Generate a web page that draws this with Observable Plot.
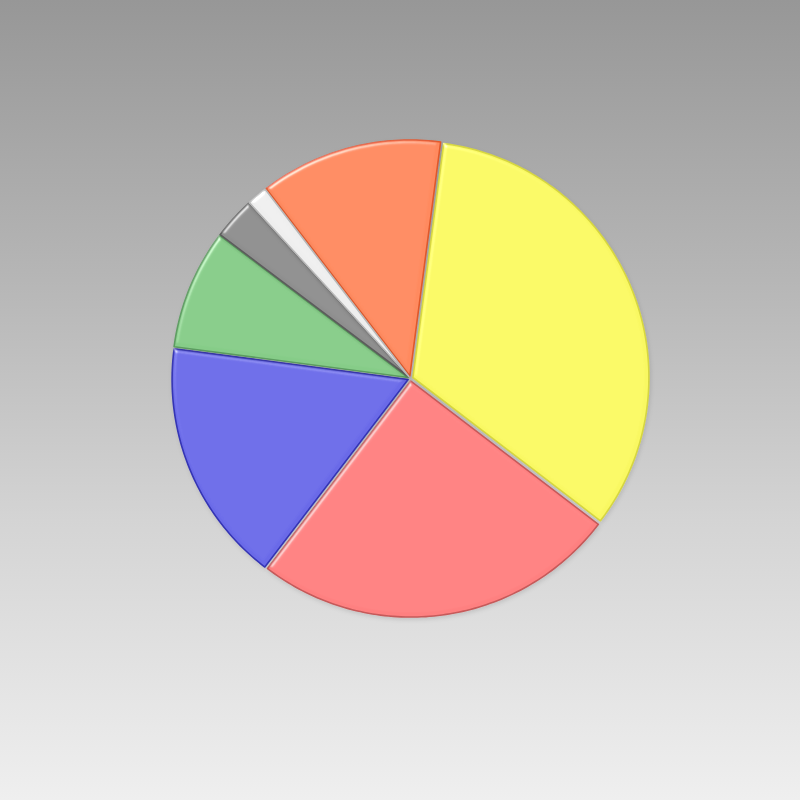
<!DOCTYPE html>
<html>
<head>
<meta charset="utf-8">
<script src="https://cdn.jsdelivr.net/npm/d3@7"></script>
<script src="https://cdn.jsdelivr.net/npm/@observablehq/plot@0.6"></script>
<style>
  html, body { margin: 0; padding: 0; }
  body { width: 800px; height: 800px; overflow: hidden;
         background: linear-gradient(to bottom, #979797 0%, #b6b6b6 35%, #d4d4d4 65%, #efefef 100%); }
  #chart svg { display: block; background: transparent; }
</style>
</head>
<body>
<div id="chart"></div>
<script>
// Slice categories, shares (percent), and colours, clockwise starting from the orange slice
const names  = ["Slice A", "Slice B", "Slice C", "Slice D", "Slice E", "Slice F", "Slice G"];
const values = [12.5, 33.3, 25, 16.7, 8.2, 2.9, 1.4];
const fills  = ["#ff8a5e", "#f9f862", "#fe8080", "#6a6ae8", "#86cc88", "#8e8e8e", "#eeeeee"];
const edges  = ["#e0582c", "#d6d640", "#c65a5a", "#3535b4", "#5c9c60", "#5c5c5c", "#b8b8b8"];
const startDeg = -37.5; // rotation of the first slice (clockwise from 12 o'clock)
const explode = 0.011;  // small radial separation between slices (fraction of radius)

// Build slice outlines from the values (angles from the shares)
const total = d3.sum(values);
const rows = [];
let acc = startDeg;
names.forEach((name, i) => {
  const a0 = acc, a1 = acc + values[i] / total * 360;
  acc = a1;
  const mid = (a0 + a1) / 2 * Math.PI / 180;
  const ox = explode * Math.sin(mid), oy = explode * Math.cos(mid);
  rows.push({name, edge: edges[i], x: ox, y: oy});
  const n = Math.max(2, Math.ceil(a1 - a0));
  for (let k = 0; k <= n; k++) {
    const a = (a0 + (a1 - a0) * k / n) * Math.PI / 180;
    rows.push({name, edge: edges[i], x: ox + Math.sin(a), y: oy + Math.cos(a)});
  }
});

const R = 236, cx = 410, cy = 378, W = 800, H = 800;
const chart = Plot.plot({
  width: W, height: H,
  margin: 0,
  style: {background: "transparent"},
  x: {domain: [-cx / R, (W - cx) / R], axis: null},
  y: {domain: [-(H - cy) / R, cy / R], axis: null},
  color: {type: "ordinal", domain: names, range: fills},
  marks: [
    Plot.line(rows, {
      x: "x", y: "y", z: "name",
      fill: "name",
      stroke: {value: "edge", scale: null},
      strokeWidth: 1.6,
      strokeLinejoin: "round",
      curve: "linear-closed",
      className: "slices"
    })
  ]
});

// Bevel / gloss filter to mimic the rendered 3D look
const ns = "http://www.w3.org/2000/svg";
const defs = document.createElementNS(ns, "defs");
defs.innerHTML = `
  <filter id="bevel" x="-5%" y="-5%" width="110%" height="110%">
    <feGaussianBlur in="SourceAlpha" stdDeviation="2" result="blur"/>
    <feSpecularLighting in="blur" surfaceScale="3" specularConstant="0.8" specularExponent="30" lighting-color="#ffffff" result="spec">
      <feDistantLight azimuth="235" elevation="35"/>
    </feSpecularLighting>
    <feComposite in="spec" in2="SourceAlpha" operator="in" result="specIn"/>
    <feComposite in="SourceGraphic" in2="specIn" operator="arithmetic" k1="0" k2="1" k3="0.7" k4="0" result="lit"/>
    <feGaussianBlur in="SourceAlpha" stdDeviation="2" result="sb"/>
    <feOffset in="sb" dx="1" dy="2" result="so"/>
    <feFlood flood-color="#000" flood-opacity="0.12"/>
    <feComposite in2="so" operator="in" result="shadow"/>
    <feMerge><feMergeNode in="shadow"/><feMergeNode in="lit"/></feMerge>
  </filter>`;
chart.insertBefore(defs, chart.firstChild);
chart.querySelectorAll("g.slices path").forEach(p => p.setAttribute("filter", "url(#bevel)"));

document.getElementById("chart").appendChild(chart);
</script>
</body>
</html>
